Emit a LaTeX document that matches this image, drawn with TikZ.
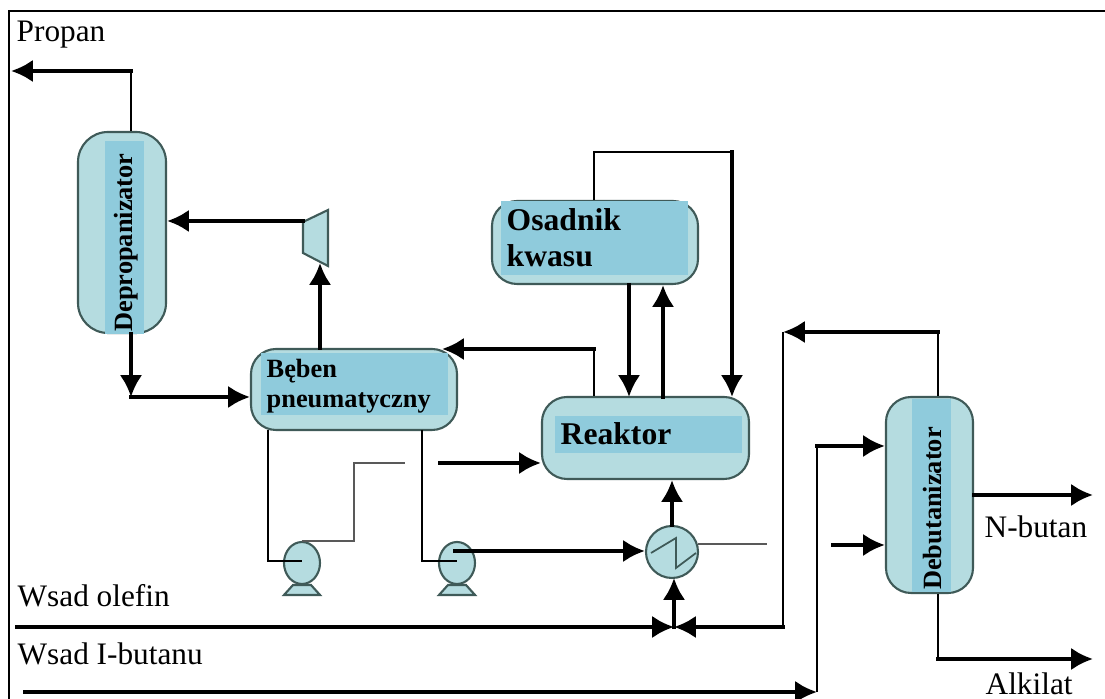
\documentclass[tikz,border=0pt]{standalone}
\usepackage{fontspec}
\setmainfont{Liberation Serif}
\usetikzlibrary{arrows.meta,shapes.geometric}

\definecolor{vesselfill}{HTML}{B5DCE0}
\definecolor{labelfill}{HTML}{8FCBDC}
\definecolor{vesseledge}{HTML}{3F5A58}

\tikzset{
  thickpipe/.style={line width=1.15pt,line cap=rect,-{Latex[length=6.2pt,width=6.4pt]}},
  medpipe/.style={line width=0.75pt},
  thinpipe/.style={line width=0.5pt},
  greypipe/.style={line width=0.55pt,gray!70!black},
  vessel/.style={draw=vesseledge,line width=0.6pt,fill=vesselfill,rounded corners=#1},
  labelbox/.style={fill=labelfill,inner sep=0pt},
  plainlabel/.style={font=\fontsize{8.9pt}{10pt}\selectfont,inner sep=0pt,anchor=base west},
  smallbold/.style={font=\bfseries\fontsize{7.5pt}{9pt}\selectfont,inner sep=0pt},
  largebold/.style={font=\bfseries\fontsize{9pt}{10pt}\selectfont,inner sep=0pt,anchor=base west},
  pumpbody/.style={draw=vesseledge,line width=0.6pt,fill=vesselfill,ellipse,minimum width=0.36cm,minimum height=0.42cm,inner sep=0pt},
}

\begin{document}
\begin{tikzpicture}
  \useasboundingbox (0,0) rectangle (11.05,6.99);
  % frame
  \draw[line width=0.5pt] (0.09,0) -- (0.09,6.88) -- (11.05,6.88);

  % vessels
  \node[vessel=0.3cm,minimum width=0.88cm,minimum height=2.01cm] (depropanizator) at (1.22,4.665) {};
  \node[labelbox,minimum width=0.39cm,minimum height=1.93cm] (depropanizatorbox) at (1.245,4.615) {};
  \node[rotate=90,smallbold] (depropanizatorlabel) at (1.26,4.565) {Depropanizator};

  \node[vessel=0.25cm,minimum width=2.06cm,minimum height=0.81cm] (beben) at (3.54,3.095) {};
  \node[labelbox,minimum width=1.87cm,minimum height=0.62cm] (bebenbox) at (3.545,3.15) {};
  \node[smallbold,anchor=base west] (bebenlabel) at (2.66,3.21) {Bęben};
  \node[smallbold,anchor=base west] (pneumatycznylabel) at (2.66,2.91) {pneumatyczny};

  \node[vessel=0.25cm,minimum width=2.06cm,minimum height=0.83cm] (osadnik) at (5.95,4.565) {};
  \node[labelbox,minimum width=1.87cm,minimum height=0.74cm] (osadnikbox) at (5.945,4.61) {};
  \node[largebold] (osadniklabel) at (5.06,4.68) {Osadnik};
  \node[largebold] (kwasulabel) at (5.06,4.32) {kwasu};

  \node[vessel=0.25cm,minimum width=2.07cm,minimum height=0.82cm] (reaktor) at (6.455,2.61) {};
  \node[labelbox,minimum width=1.87cm,minimum height=0.37cm] (reaktorbox) at (6.485,2.645) {};
  \node[largebold] (reaktorlabel) at (5.6,2.54) {Reaktor};

  \node[vessel=0.25cm,minimum width=0.87cm,minimum height=1.96cm] (debutanizator) at (9.295,2.04) {};
  \node[labelbox,minimum width=0.39cm,minimum height=1.93cm] (debutanizatorbox) at (9.315,2.035) {};
  \node[rotate=90,smallbold] (debutanizatorlabel) at (9.33,1.905) {Debutanizator};

  % kompresor
  \draw[vessel=0pt] (3.03,4.77) -- (3.28,4.89) -- (3.28,4.33) -- (3.03,4.46) -- cycle;
  \coordinate (kompresorwe) at (3.2,4.36);
  \coordinate (kompresorwy) at (3.03,4.78);

  % pompy
  \foreach \name/\px in {pompaa/3.02,pompab/4.57}{
    \draw[vessel=0pt] (\px-0.18,1.04) -- (\px-0.09,1.14) -- (\px+0.09,1.14) -- (\px+0.18,1.04) -- cycle;
    \node[pumpbody] (\name) at (\px,1.36) {};
  }

  % wymiennik
  \node[draw=vesseledge,line width=0.6pt,fill=vesselfill,circle,minimum size=0.52cm,inner sep=0pt] (wymiennik) at (6.72,1.47) {};
  \draw[thinpipe,vesseledge] (6.51,1.46) -- (6.76,1.61) -- (6.76,1.31) -- (6.96,1.46);

  % wolne konce
  \coordinate (propanwy) at (0.11,6.28);
  \coordinate (propanzal) at (1.31,6.28);
  \coordinate (depzal) at (1.31,3.02);
  \coordinate (obiega) at (2.68,1.38);
  \coordinate (obiegc) at (3.54,2.36);
  \coordinate (obiegd) at (4.05,2.36);
  \coordinate (wlote) at (4.4,2.36);
  \coordinate (poma) at (4.22,1.38);
  \coordinate (pomb) at (4.55,1.48);
  \coordinate (wymwe) at (6.98,1.55);
  \coordinate (wymwy) at (7.67,1.55);
  \coordinate (zawor) at (6.74,0.72);
  \coordinate (wymdol) at (6.74,1.21);
  \coordinate (olefin) at (0.17,0.72);
  \coordinate (obiegg) at (7.83,0.72);
  \coordinate (obiegh) at (7.83,3.67);
  \coordinate (obiegi) at (9.38,3.67);
  \coordinate (butan) at (0.25,0.07);
  \coordinate (buta) at (8.17,0.07);
  \coordinate (butb) at (8.17,2.53);
  \coordinate (wlotd) at (8.33,1.54);
  \coordinate (nbutan) at (10.93,2.04);
  \coordinate (alka) at (9.38,0.4);
  \coordinate (alkb) at (10.93,0.4);
  \coordinate (osza) at (5.94,5.47);
  \coordinate (oszb) at (7.32,5.47);
  \coordinate (reza) at (5.94,3.5);
  \coordinate (bebwe) at (4.42,3.5);
  \coordinate (reakwe) at (6.29,3.02);
  \coordinate (reakwy) at (6.63,3.02);
  \coordinate (reakgor) at (7.32,3.02);
  \coordinate (rura) at (2.68,2.69);
  \coordinate (rurb) at (4.22,2.69);

  % rurociagi
  \draw[medpipe] (propanzal |- depropanizator.north) -- (propanzal);
  \draw[thickpipe] (propanzal) -- (propanwy);
  \draw[thickpipe] (depzal |- depropanizator.south) -- (depzal);
  \draw[thickpipe] (depzal) -- (beben.west |- depzal);
  \draw[thickpipe] (kompresorwe |- beben.north) -- (kompresorwe);
  \draw[thickpipe] (kompresorwy) -- (depropanizator.east |- kompresorwy);
  \draw[thinpipe] (osza |- osadnik.north) -- (osza) -- (oszb);
  \draw[thickpipe] (oszb) -- (reakgor);
  \draw[thickpipe] (reakwe |- osadnik.south) -- (reakwe);
  \draw[thickpipe] (reakwy) -- (reakwy |- osadnik.south);
  \draw[thinpipe] (reza |- reaktor.north) -- (reza);
  \draw[thickpipe] (reza) -- (bebwe);
  \draw[thinpipe] (rura) -- (obiega) -- (pompaa.center |- obiega);
  \draw[greypipe] (pompaa.north) -- (obiegc |- pompaa.north) -- (obiegc) -- (obiegd);
  \draw[thickpipe] (wlote) -- (reaktor.west |- wlote);
  \draw[thinpipe] (rurb) -- (poma) -- (pompab.center |- poma);
  \draw[thickpipe] (pomb) -- (wymiennik.west |- pomb);
  \draw[thickpipe] (wymiennik.north) -- (wymiennik.north |- reaktor.south);
  \draw[greypipe] (wymwe) -- (wymwy);
  \draw[thickpipe] (zawor) -- (wymdol);
  \draw[thickpipe] (olefin) -- (zawor);
  \draw[thickpipe] (obiegg) -- (zawor);
  \draw[medpipe] (obiegg) -- (obiegh);
  \draw[medpipe] (obiegi |- debutanizator.north) -- (obiegi);
  \draw[thickpipe] (obiegi) -- (obiegh);
  \draw[thickpipe] (butan) -- (buta);
  \draw[medpipe] (buta) -- (butb);
  \draw[thickpipe] (butb) -- (debutanizator.west |- butb);
  \draw[thickpipe] (wlotd) -- (debutanizator.west |- wlotd);
  \draw[thickpipe] (debutanizator.east |- nbutan) -- (nbutan);
  \draw[medpipe] (alka |- debutanizator.south) -- (alka);
  \draw[thickpipe] (alka) -- (alkb);

  % opisy
  \node[plainlabel] (propanlabel) at (0.16,6.57) {Propan};
  \node[plainlabel] (olefinlabel) at (0.17,0.92) {Wsad olefin};
  \node[plainlabel] (butanulabel) at (0.17,0.34) {Wsad I-butanu};
  \node[plainlabel] (nbutanlabel) at (9.84,1.61) {N-butan};
  \node[plainlabel] (alkilatlabel) at (9.85,0.04) {Alkilat};
\end{tikzpicture}
\end{document}
